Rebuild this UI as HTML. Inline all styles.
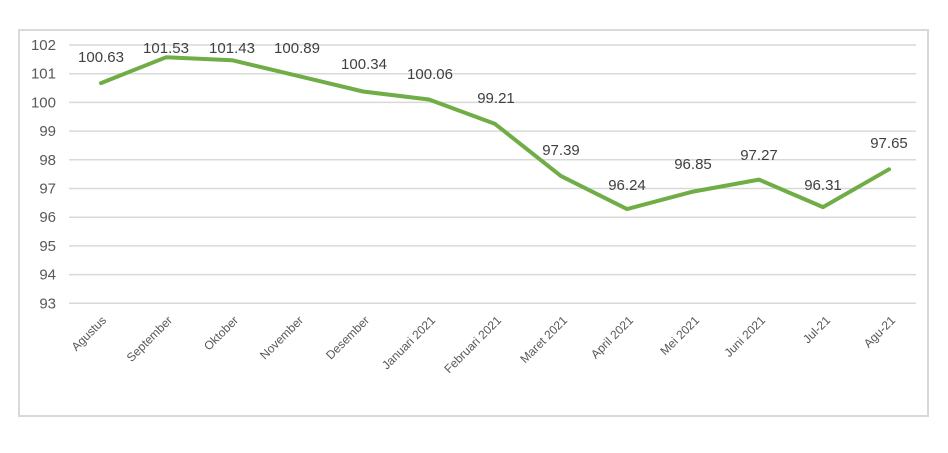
<!DOCTYPE html>
<html><head><meta charset="utf-8"><style>
html,body{margin:0;padding:0;background:#fff;}
svg{display:block;font-family:"Liberation Sans",sans-serif;}
</style></head><body>
<svg width="948" height="453" viewBox="0 0 948 453">
<rect x="19" y="30" width="909" height="386" fill="#fff" stroke="#d9d9d9" stroke-width="2"/>
<g stroke="#d9d9d9" stroke-width="1.5">
<line x1="69" x2="916" y1="45" y2="45"/>
<line x1="69" x2="916" y1="73.7" y2="73.7"/>
<line x1="69" x2="916" y1="102.4" y2="102.4"/>
<line x1="69" x2="916" y1="131.1" y2="131.1"/>
<line x1="69" x2="916" y1="159.8" y2="159.8"/>
<line x1="69" x2="916" y1="188.5" y2="188.5"/>
<line x1="69" x2="916" y1="217.2" y2="217.2"/>
<line x1="69" x2="916" y1="245.9" y2="245.9"/>
<line x1="69" x2="916" y1="274.6" y2="274.6"/>
<line x1="69" x2="916" y1="303.3" y2="303.3"/>
</g>
<g fill="#595959" font-size="15" text-anchor="end">
<text x="56" y="50">102</text><text x="56" y="78.7">101</text><text x="56" y="107.4">100</text>
<text x="56" y="136.1">99</text><text x="56" y="164.8">98</text><text x="56" y="193.5">97</text>
<text x="56" y="222.2">96</text><text x="56" y="250.9">95</text><text x="56" y="279.6">94</text>
<text x="56" y="308.3">93</text>
</g>
<polyline fill="none" stroke="#70ad47" stroke-width="4" stroke-linejoin="round" stroke-linecap="round"
points="101,83.1 166,57.3 232,60.2 297,75.7 363,91.5 429,99.5 495,123.9 561,176.1 627,209.1 693,191.6 759,179.6 823,207.1 889,169.3"/>
<g fill="#404040" font-size="15" text-anchor="middle">
<text x="101" y="62">100.63</text><text x="166" y="53">101.53</text><text x="232" y="53">101.43</text>
<text x="297" y="53">100.89</text><text x="364" y="69">100.34</text><text x="430" y="79">100.06</text>
<text x="496" y="103">99.21</text><text x="561" y="155">97.39</text><text x="627" y="190">96.24</text>
<text x="693" y="169">96.85</text><text x="759" y="160">97.27</text><text x="823" y="190">96.31</text>
<text x="889" y="148">97.65</text>
</g>
<g fill="#595959" font-size="12" text-anchor="end">
<text transform="translate(107,321) rotate(-45)">Agustus</text>
<text transform="translate(173,321) rotate(-45)">September</text>
<text transform="translate(239,321) rotate(-45)">Oktober</text>
<text transform="translate(304,321) rotate(-45)">November</text>
<text transform="translate(370,321) rotate(-45)">Desember</text>
<text transform="translate(436,321) rotate(-45)">Januari 2021</text>
<text transform="translate(502,321) rotate(-45)">Februari 2021</text>
<text transform="translate(568,321) rotate(-45)">Maret 2021</text>
<text transform="translate(634,321) rotate(-45)">April 2021</text>
<text transform="translate(700,321) rotate(-45)">Mei 2021</text>
<text transform="translate(766,321) rotate(-45)">Juni 2021</text>
<text transform="translate(831,321) rotate(-45)">Jul-21</text>
<text transform="translate(896,321) rotate(-45)">Agu-21</text>
</g>
</svg>
</body></html>
